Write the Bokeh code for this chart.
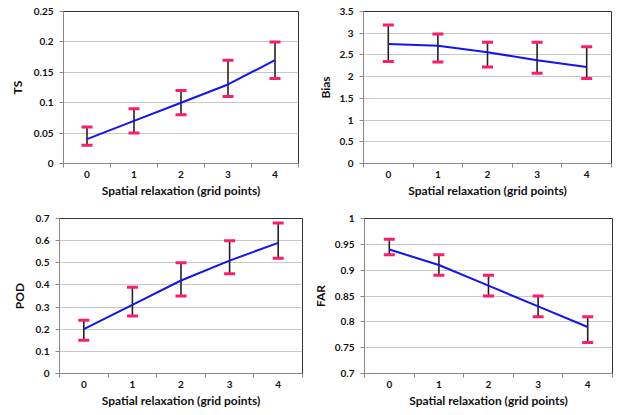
from bokeh.plotting import figure
from bokeh.layouts import column, row
from bokeh.models import ColumnDataSource, FixedTicker, Whisker, TeeHead, Range1d
from bokeh.embed import file_html
from bokeh.resources import INLINE

x = [0, 1, 2, 3, 4]
x_labels = ["0", "1", "2", "3", "4"]
xlabel = "Spatial relaxation (grid points)"

ts_val = [0.04, 0.07, 0.10, 0.13, 0.17]
ts_lo = [0.03, 0.05, 0.08, 0.11, 0.14]
ts_hi = [0.06, 0.09, 0.12, 0.17, 0.20]
ts_ticks = [0, 0.05, 0.1, 0.15, 0.2, 0.25]

bias_val = [2.75, 2.71, 2.56, 2.38, 2.22]
bias_lo = [2.35, 2.34, 2.22, 2.08, 1.96]
bias_hi = [3.19, 2.98, 2.79, 2.79, 2.69]
bias_ticks = [0, 0.5, 1, 1.5, 2, 2.5, 3, 3.5]

pod_val = [0.20, 0.31, 0.42, 0.51, 0.59]
pod_lo = [0.15, 0.26, 0.35, 0.45, 0.52]
pod_hi = [0.24, 0.39, 0.50, 0.60, 0.68]
pod_ticks = [0, 0.1, 0.2, 0.3, 0.4, 0.5, 0.6, 0.7]

far_val = [0.94, 0.91, 0.87, 0.83, 0.79]
far_lo = [0.93, 0.89, 0.85, 0.81, 0.76]
far_hi = [0.96, 0.93, 0.89, 0.85, 0.81]
far_ticks = [0.7, 0.75, 0.8, 0.85, 0.9, 0.95, 1.0]

FONT = "Lato"


def fmt(t):
    return "%g" % t


def make(ylabel, val, lo, hi, yticks, w, h, bl, br, bt, bb, ystand):
    p = figure(width=w, height=h, output_backend="svg", toolbar_location=None,
               x_range=Range1d(-0.5, 4.5), y_range=Range1d(yticks[0], yticks[-1]),
               min_border_left=bl, min_border_right=br, min_border_top=bt, min_border_bottom=bb)
    p.outline_line_color = "#333333"
    p.outline_line_width = 1
    p.background_fill_color = "white"
    p.border_fill_color = "white"
    p.xgrid.visible = False
    p.ygrid.grid_line_color = "#c8c8c8"
    p.ygrid.grid_line_width = 1
    p.ygrid.ticker = FixedTicker(ticks=yticks)

    p.xaxis.ticker = FixedTicker(ticks=x, minor_ticks=[-0.5, 0.5, 1.5, 2.5, 3.5, 4.5])
    p.xaxis.major_label_overrides = {xv: lab for xv, lab in zip(x, x_labels)}
    p.xaxis.major_tick_line_color = None
    p.xaxis.major_tick_out = 4
    p.xaxis.major_tick_in = 0
    p.xaxis.minor_tick_line_color = "#888888"
    p.xaxis.minor_tick_in = 0
    p.xaxis.minor_tick_out = 4
    p.xaxis.major_label_standoff = 3
    p.xaxis.axis_label = xlabel
    p.xaxis.axis_label_standoff = 2

    p.yaxis.ticker = FixedTicker(ticks=yticks)
    p.yaxis.major_label_overrides = {t: fmt(t) for t in yticks}
    p.yaxis.minor_tick_line_color = None
    p.yaxis.major_tick_line_color = "#888888"
    p.yaxis.major_tick_in = 0
    p.yaxis.major_tick_out = 4
    p.yaxis.major_label_standoff = 6
    p.yaxis.axis_label = ylabel
    p.yaxis.axis_label_standoff = ystand

    for ax in (p.xaxis, p.yaxis):
        ax.axis_line_color = "#888888"
        ax.axis_line_width = 1
        ax.major_label_text_font = FONT
        ax.major_label_text_font_style = "bold"
        ax.major_label_text_font_size = "10px"
        ax.major_label_text_color = "#111111"
        ax.axis_label_text_font = FONT
        ax.axis_label_text_font_style = "bold"
        ax.axis_label_text_font_size = "12px"
        ax.axis_label_text_color = "#111111"

    src = ColumnDataSource(dict(x=x, val=val, lo=lo, hi=hi))
    p.line("x", "val", source=src, line_color="#1414f0", line_width=2)
    wh = Whisker(base="x", lower="lo", upper="hi", source=src,
                 line_color="#222222", line_width=1.6,
                 upper_head=TeeHead(size=11, line_color="#ff1a6e", line_width=3),
                 lower_head=TeeHead(size=11, line_color="#ff1a6e", line_width=3))
    p.add_layout(wh)
    return p


p1 = make("TS", ts_val, ts_lo, ts_hi, ts_ticks, 309, 205, 63, 11, 11, 42, 6)
p2 = make("Bias", bias_val, bias_lo, bias_hi, bias_ticks, 309, 205, 54, 7, 10, 42, 4)
p3 = make("POD", pod_val, pod_lo, pod_hi, pod_ticks, 309, 210, 59, 7, 13, 41, 6)
p4 = make("FAR", far_val, far_lo, far_hi, far_ticks, 309, 210, 53, 6, 13, 42, 4)

layout = column(row(p1, p2), row(p3, p4))
open("out.html", "w").write(file_html(layout, INLINE))
